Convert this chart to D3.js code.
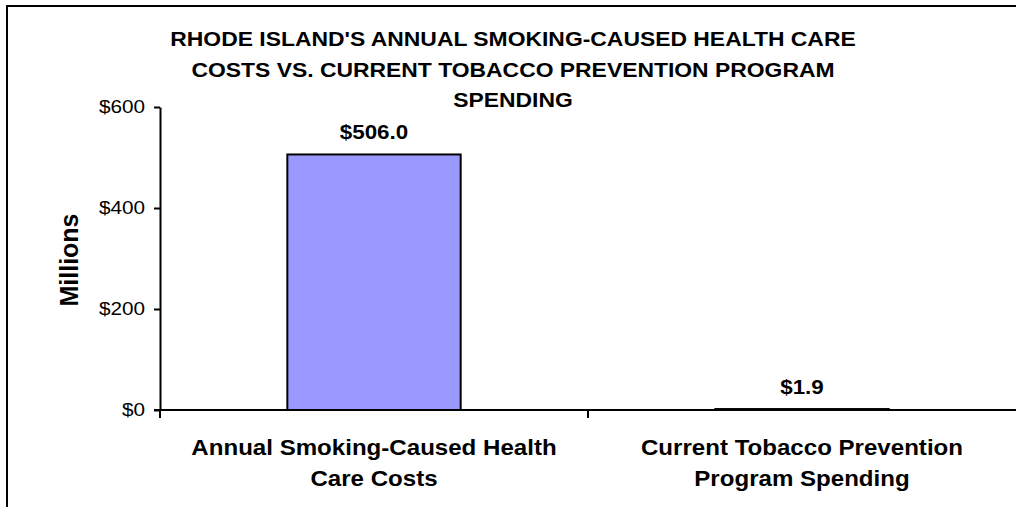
<!DOCTYPE html>
<html>
<head>
<meta charset="utf-8">
<script src="https://cdn.jsdelivr.net/npm/d3@7"></script>
<style>
  html, body { margin: 0; padding: 0; background: #fff; }
  svg { display: block; font-family: "Liberation Sans", Arial, sans-serif; }
</style>
</head>
<body>
<svg id="chart" width="1016" height="507"></svg>
<script>
// Spending data (millions of dollars)
const categories = [
  ["Annual Smoking-Caused Health", "Care Costs"],
  ["Current Tobacco Prevention", "Program Spending"]
];
const values = [506.0, 1.9];
const valueLabels = ["$506.0", "$1.9"];
const yTicks = [0, 200, 400, 600];
const titleLines = [
  "RHODE ISLAND'S ANNUAL SMOKING-CAUSED HEALTH CARE",
  "COSTS VS. CURRENT TOBACCO PREVENTION PROGRAM",
  "SPENDING"
];

// Horizontal widening applied to horizontal text
function widen(factor) {
  return sel => sel.each(function() {
    const len = this.getComputedTextLength();
    d3.select(this)
      .attr("textLength", len * factor)
      .attr("lengthAdjust", "spacingAndGlyphs");
  });
}

const svg = d3.select("#chart");

// Outer frame
svg.append("rect")
  .attr("x", 7).attr("y", 6)
  .attr("width", 1100).attr("height", 600)
  .attr("fill", "none").attr("stroke", "#000").attr("stroke-width", 2);

const plot = { left: 160, right: 1016, top: 107, bottom: 410 };

const x = d3.scaleBand()
  .domain(d3.range(categories.length))
  .range([plot.left, plot.right])
  .paddingInner(0.595).paddingOuter(0.2975);

const y = d3.scaleLinear().domain([0, 600]).range([plot.bottom, plot.top]);

// Title
svg.selectAll("text.title").data(titleLines).join("text")
  .attr("class", "title")
  .attr("x", 513).attr("y", (d, i) => 46 + i * 30.7)
  .attr("text-anchor", "middle")
  .attr("font-size", 21).attr("font-weight", "bold")
  .text(d => d)
  .call(widen(1.09));

// Bars
svg.selectAll("rect.bar").data(values).join("rect")
  .attr("class", "bar")
  .attr("x", (d, i) => x(i))
  .attr("y", d => y(d))
  .attr("width", x.bandwidth())
  .attr("height", d => y(0) - y(d))
  .attr("fill", "#9999ff")
  .attr("stroke", "#000").attr("stroke-width", 2);

// Value labels
svg.selectAll("text.val").data(values).join("text")
  .attr("class", "val")
  .attr("x", (d, i) => x(i) + x.bandwidth() / 2)
  .attr("y", d => y(d) - 15)
  .attr("text-anchor", "middle")
  .attr("font-size", 20).attr("font-weight", "bold")
  .text((d, i) => valueLabels[i])
  .call(widen(1.12));

// Y axis
const yAxis = d3.axisLeft(y).tickValues(yTicks)
  .tickFormat(d => "$" + d).tickSize(6).tickSizeOuter(0).tickPadding(9);
const gy = svg.append("g").attr("transform", `translate(${plot.left},0)`).call(yAxis);
gy.select(".domain").attr("stroke-width", 2);
gy.selectAll(".tick line").attr("stroke-width", 2);
gy.selectAll(".tick text")
  .attr("font-size", 18.5)
  .attr("font-family", "Liberation Sans, Arial, sans-serif")
  .attr("fill", "#000")
  .call(widen(1.12));

// X axis: ticks sit on category boundaries
const boundaries = [plot.left, (plot.left + plot.right) / 2];
const gx = svg.append("g");
gx.append("line")
  .attr("x1", plot.left - 6).attr("x2", plot.right)
  .attr("y1", y(0)).attr("y2", y(0))
  .attr("stroke", "#000").attr("stroke-width", 2);
gx.selectAll("line.xt").data(boundaries).join("line")
  .attr("class", "xt")
  .attr("x1", d => d).attr("x2", d => d)
  .attr("y1", y(0)).attr("y2", y(0) + 8)
  .attr("stroke", "#000").attr("stroke-width", 2);

// Category labels (one text element per line)
categories.forEach((lines, i) => {
  const cx = x(i) + x.bandwidth() / 2;
  svg.selectAll(null).data(lines).join("text")
    .attr("class", "cat")
    .attr("x", cx)
    .attr("y", (d, j) => 455 + j * 31)
    .attr("text-anchor", "middle")
    .attr("font-size", 21.5).attr("font-weight", "bold")
    .text(d => d)
    .call(widen(1.12));
});

// Y axis title
svg.append("text")
  .attr("transform", "translate(78,260) rotate(-90)")
  .attr("text-anchor", "middle")
  .attr("font-size", 25).attr("font-weight", "bold")
  .text("Millions");
</script>
</body>
</html>
